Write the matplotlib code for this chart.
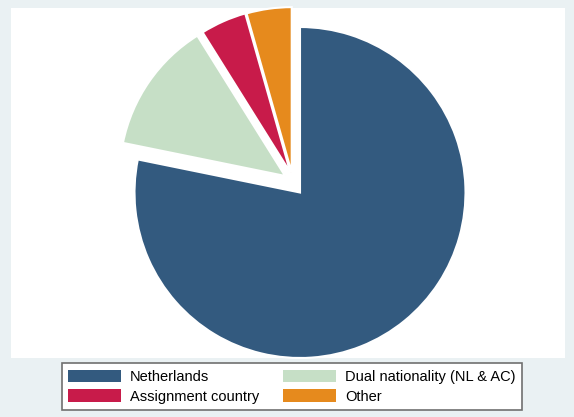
import matplotlib
matplotlib.use("Agg")
import matplotlib.pyplot as plt
from matplotlib.patches import Patch

plt.rcParams["font.family"] = ["Liberation Sans", "DejaVu Sans"]

# ------------------------------------------------------------
# DATA
# ------------------------------------------------------------
labels = ["Netherlands", "Dual nationality (NL & AC)", "Assignment country", "Other"]
shares = [78.2, 12.9, 4.5, 4.4]
colors = ["#335a7f", "#c6dfc6", "#c81b4a", "#e68a1d"]

# how far each wedge is pulled out, in radius units (x, y)
shifts = [(0.0, 0.0), (-0.09, 0.10), (-0.058, 0.12), (-0.05, 0.12)]

# ------------------------------------------------------------
# LAYOUT (pixels)
# ------------------------------------------------------------
W, H = 574, 417
px_left, px_right, px_top, px_bottom = 11, 565, 8, 357.5
cx, cy, r = 300, 192.5, 165.5

fig = plt.figure(figsize=(W / 100, H / 100), dpi=100, facecolor="#eaf1f3")
ax = fig.add_axes([px_left / W, 1 - px_bottom / H,
                   (px_right - px_left) / W, (px_bottom - px_top) / H])

wedges, _ = ax.pie(
    shares,
    colors=colors,
    startangle=90,
    counterclock=False,
    wedgeprops=dict(edgecolor="white", linewidth=1.5),
)
for w, s in zip(wedges, shifts):
    w.set_center(s)
    w.set_clip_on(False)

ax.set_aspect("auto")
ax.set_xlim((px_left - cx) / r, (px_right - cx) / r)
ax.set_ylim((cy - px_bottom) / r, (cy - px_top) / r)
ax.set_frame_on(True)
for sp in ax.spines.values():
    sp.set_visible(False)
ax.set_facecolor("white")

# legend: two columns, filled column-wise
order = [0, 2, 1, 3]
handles = [Patch(facecolor=colors[i], edgecolor="none", label=labels[i]) for i in order]
leg = fig.legend(
    handles=handles,
    ncol=2,
    loc="upper left",
    bbox_to_anchor=(61.5 / W, 1 - 363 / H),
    frameon=True,
    fancybox=False,
    edgecolor="#707070",
    fontsize=10.5,
    handlelength=3.63,
    handleheight=0.96,
    handletextpad=0.62,
    columnspacing=1.65,
    labelspacing=0.37,
    borderpad=0.45,
    borderaxespad=0,
)
leg.get_frame().set_linewidth(1.2)
leg.get_frame().set_alpha(1)

fig.savefig("out.png", dpi=100, facecolor=fig.get_facecolor())
